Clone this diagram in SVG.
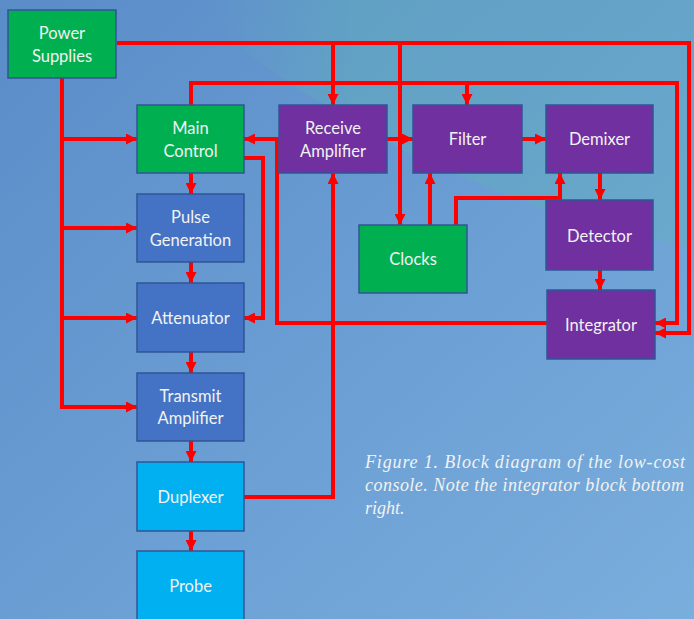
<svg xmlns="http://www.w3.org/2000/svg" width="694" height="619" viewBox="0 0 694 619">
<defs>
<linearGradient id="bg" x1="0" y1="0" x2="1" y2="1">
<stop offset="0" stop-color="#5A8CC8"/>
<stop offset="1" stop-color="#7AAEDD"/>
</linearGradient>
<linearGradient id="band" x1="0" y1="0" x2="1" y2="0">
<stop offset="0" stop-color="#5FB0B8" stop-opacity="0"/>
<stop offset="0.3" stop-color="#5FB0B8" stop-opacity="0.45"/>
<stop offset="1" stop-color="#5FB0B8" stop-opacity="0.35"/>
</linearGradient>
<marker id="ah" viewBox="0 0 10 10" refX="10" refY="5" markerWidth="11" markerHeight="11" markerUnits="userSpaceOnUse" orient="auto">
<path d="M0,0 L10,5 L0,10 z" fill="#FF0000"/>
</marker>
<style>
.n rect{stroke:#2F5597;stroke-width:1.5}
.g rect{fill:#00B050}
.p rect{fill:#7030A0}
.b rect{fill:#4472C4}
.c rect{fill:#00B0F0}
.n text{font-family:Lato,"Open Sans","Liberation Sans",sans-serif;font-size:16.5px;fill:#F2F2F2;text-anchor:middle}
#connectors path{fill:none;stroke:#FF0000;stroke-width:4;stroke-linejoin:miter}
.a{marker-end:url(#ah)}
.cap{font-family:"Liberation Serif",serif;font-style:italic;font-size:18px;fill:#F2F2F2}
</style>
</defs>
<rect width="694" height="619" fill="url(#bg)"/>
<path d="M210,0 L694,0 L694,250 L560,215 L420,160 L300,90 L215,30 Z" fill="url(#band)"/>

<g id="connectors">
<path class="a" d="M117,43 H689 V333 H655"/>
<path class="a" d="M333,43 V105"/>
<path class="a" d="M400,43 V225"/>
<path class="a" d="M62,78 V407 H137"/>
<path class="a" d="M62,139 H137"/>
<path class="a" d="M62,228 H137"/>
<path class="a" d="M62,318 H137"/>
<path class="a" d="M191,105 V83 H677 V323 H655"/>
<path class="a" d="M467,83 V105"/>
<path class="a" d="M191,173 V194"/>
<path class="a" d="M191,262 V283"/>
<path class="a" d="M191,352 V373"/>
<path class="a" d="M191,441 V462"/>
<path class="a" d="M191,531 V551"/>
<path class="a" d="M244,158 H263 V318 H244"/>
<path class="a" d="M547,323 H277 V139 H244"/>
<path class="a" d="M244,497 H333 V173"/>
<path class="a" d="M387,139 H413"/>
<path class="a" d="M522,139 H546"/>
<path class="a" d="M430,225 V173"/>
<path class="a" d="M456,225 V198 H560 V173"/>
<path class="a" d="M600,173 V200"/>
<path class="a" d="M600,270 V290"/>
</g>

<g id="power-supplies" class="n g"><rect x="8" y="10" width="108" height="68"/><text x="62" y="39">Power</text><text x="62" y="62">Supplies</text></g>
<g id="main-control" class="n g"><rect x="137" y="105" width="107" height="68"/><text x="190.5" y="134">Main</text><text x="190.5" y="157">Control</text></g>
<g id="pulse-generation" class="n b"><rect x="137" y="194" width="107" height="68"/><text x="190.5" y="223">Pulse</text><text x="190.5" y="246">Generation</text></g>
<g id="attenuator" class="n b"><rect x="137" y="283" width="107" height="69"/><text x="190.5" y="324">Attenuator</text></g>
<g id="transmit-amplifier" class="n b"><rect x="137" y="373" width="107" height="68"/><text x="190.5" y="402">Transmit</text><text x="190.5" y="424">Amplifier</text></g>
<g id="duplexer" class="n c"><rect x="137" y="462" width="107" height="69"/><text x="190.5" y="503">Duplexer</text></g>
<g id="probe" class="n c"><rect x="137" y="551" width="107" height="75"/><text x="190.5" y="592">Probe</text></g>
<g id="receive-amplifier" class="n p"><rect x="279" y="105" width="108" height="68"/><text x="333" y="134">Receive</text><text x="333" y="157">Amplifier</text></g>
<g id="filter" class="n p"><rect x="413" y="105" width="109" height="68"/><text x="467.5" y="145">Filter</text></g>
<g id="demixer" class="n p"><rect x="546" y="105" width="107" height="68"/><text x="599.5" y="145">Demixer</text></g>
<g id="clocks" class="n g"><rect x="359" y="225" width="108" height="68"/><text x="413" y="265">Clocks</text></g>
<g id="detector" class="n p"><rect x="546" y="200" width="107" height="70"/><text x="599.5" y="242">Detector</text></g>
<g id="integrator" class="n p"><rect x="547" y="290" width="108" height="69"/><text x="601" y="331">Integrator</text></g>

<text class="cap" x="365" y="468" textLength="320" lengthAdjust="spacing">Figure 1. Block diagram of the low-cost</text>
<text class="cap" x="365" y="491" textLength="319" lengthAdjust="spacing">console. Note the integrator block bottom</text>
<text class="cap" x="365" y="514">right.</text>
</svg>
